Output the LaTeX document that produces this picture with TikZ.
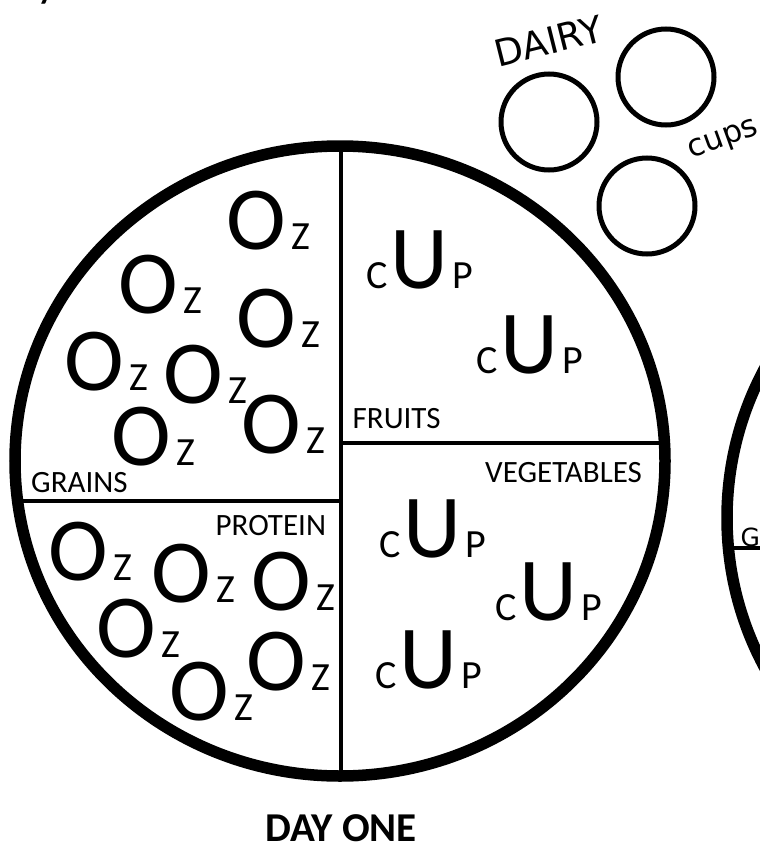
\documentclass[tikz,border=0pt]{standalone}
\usepackage{fontspec}
\setmainfont{Carlito}
\newfontfamily\djv{DejaVu Sans}
\newcommand\bigfnt{\fontsize{90bp}{90bp}\selectfont}
\newcommand\smallfnt{\fontsize{40bp}{40bp}\selectfont}
\newcommand\ozmark{{\bigfnt O}\kern6bp{\smallfnt Z}}
\newcommand\cupmark{{\smallfnt C}\kern3bp{\bigfnt U}\kern4bp{\smallfnt P}}
\tikzset{
  rim/.style={line width=11.5bp},
  divider/.style={line width=4.5bp},
  cupring/.style={line width=5bp},
  unit/.style={anchor=base west, inner sep=0pt},
  group/.style={anchor=base west, inner sep=0pt, font=\fontsize{31bp}{31bp}\selectfont},
}
\begin{document}
\begin{tikzpicture}[x=1bp,y=-1bp]
\useasboundingbox (0,0) rectangle (760,848);
\clip (0,0) rectangle (760,848);
\fill[white] (0,0) rectangle (760,848);

% heading, only its descender falls on the page
\node[anchor=base west, inner sep=0pt, font=\fontsize{48bp}{48bp}\selectfont] (head) at (36,-3) {y};

% ---- dairy cups ----
\node[anchor=base, inner sep=0pt, rotate=14, font=\djv\fontsize{37bp}{37bp}\selectfont] (dairy) at (552,54) {DAIRY};
\node[anchor=base, inner sep=0pt, rotate=20, font=\djv\fontsize{31bp}{31bp}\selectfont] (cups) at (726,146) {cups};
\draw[cupring] (549,122) circle[radius=48];
\draw[cupring] (666,77) circle[radius=48];
\draw[cupring] (647,206) circle[radius=48];

% ---- the plate ----
\coordinate (top) at (341,146);
\coordinate (bot) at (341,776);
\coordinate (lw) at (17.6,501);
\coordinate (lc) at (341,501);
\coordinate (rc) at (341,443);
\coordinate (re) at (664.5,443);
\draw[divider] (top) -- (bot);
\draw[divider] (lw) -- (lc);
\draw[divider] (rc) -- (re);
\draw[rim] (340,461) ellipse[x radius=325, y radius=315];

% grains
\node[unit] (g1) at (226,249) {\ozmark};
\node[unit] (g2) at (118,313) {\ozmark};
\node[unit] (g3) at (236,347) {\ozmark};
\node[unit] (g4) at (64,390) {\ozmark};
\node[unit] (g5) at (163,403) {\ozmark};
\node[unit] (g6) at (241,453) {\ozmark};
\node[unit] (g7) at (111,465) {\ozmark};
\node[group] (grains) at (31,492) {GRAINS};

% protein
\node[group] (protein) at (215.5,535) {PROTEIN};
\node[unit] (p1) at (48,580) {\ozmark};
\node[unit] (p2) at (151,602) {\ozmark};
\node[unit] (p3) at (251,610) {\ozmark};
\node[unit] (p4) at (96,657) {\ozmark};
\node[unit] (p5) at (169,720) {\ozmark};
\node[unit] (p6) at (246,690) {\ozmark};

% fruits
\node[unit] (f1) at (366,288) {\cupmark};
\node[unit] (f2) at (476,373) {\cupmark};
\node[group] (fruits) at (352.5,428) {FRUITS};

% vegetables
\node[group] (veg) at (485,482) {VEGETABLES};
\node[unit] (v1) at (379,557) {\cupmark};
\node[unit] (v2) at (495,620) {\cupmark};
\node[unit] (v3) at (375,688) {\cupmark};

\node[anchor=base, inner sep=0pt, font=\bfseries\fontsize{41bp}{41bp}\selectfont] (day) at (341,841) {DAY ONE};

% ---- next plate, cut by the page edge ----
\coordinate (nl) at (733,548);
\coordinate (nr) at (800,548);
\draw[divider] (nl) -- (nr);
\draw[rim] (1052,518) ellipse[x radius=325, y radius=320];
\node[anchor=base west, inner sep=0pt, font=\djv\fontsize{25bp}{25bp}\selectfont] (g2lab) at (740.5,546) {GRAINS};
\end{tikzpicture}
\end{document}
